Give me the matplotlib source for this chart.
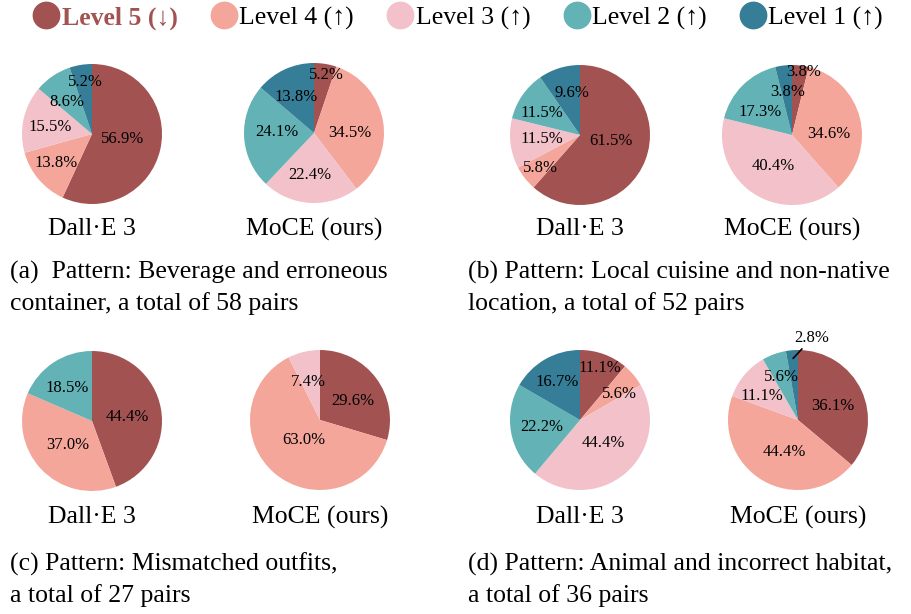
import matplotlib.pyplot as plt
from matplotlib.lines import Line2D

plt.rcParams['font.family'] = ['Liberation Serif', 'DejaVu Serif']

# Data: number of pairs per level (Level 5, 4, 3, 2, 1)
levels = ['Level 5 (\u2193)', 'Level 4 (\u2191)', 'Level 3 (\u2191)', 'Level 2 (\u2191)', 'Level 1 (\u2191)']
colors = ['#A35252', '#F4A69A', '#F2C1CA', '#62B2B6', '#367D97']

models = ['Dall\u00b7E 3', 'MoCE (ours)']

a_dalle = [33, 8, 9, 5, 3]
a_moce = [3, 20, 13, 14, 8]
b_dalle = [32, 3, 6, 6, 5]
b_moce = [2, 18, 21, 9, 2]
c_dalle = [12, 10, 0, 5, 0]
c_moce = [8, 17, 2, 0, 0]
d_dalle = [4, 2, 16, 8, 6]
d_moce = [13, 16, 4, 2, 1]

captions = [
    '(a)  Pattern: Beverage and erroneous\ncontainer, a total of 58 pairs',
    '(b) Pattern: Local cuisine and non-native\nlocation, a total of 52 pairs',
    '(c) Pattern: Mismatched outfits,\na total of 27 pairs',
    '(d) Pattern: Animal and incorrect habitat,\na total of 36 pairs',
]

W, H = 911, 614
R = 70
fig = plt.figure(figsize=(W / 100, H / 100), dpi=100)

# where each percentage label sits, in pie radius units (layout only)
label_pos = [
    [(0.43, -0.07), (-0.51, -0.41), (-0.60, 0.10), (-0.36, 0.46), (-0.09, 0.74)],
    [(0.17, 0.83), (0.51, 0.0), (-0.06, -0.60), (-0.53, 0.02), (-0.26, 0.52)],
    [(0.44, -0.08), (-0.57, -0.47), (-0.55, -0.06), (-0.55, 0.31), (-0.11, 0.60)],
    [(0.17, 0.90), (0.52, 0.02), (-0.27, -0.44), (-0.45, 0.33), (-0.06, 0.62)],
    [(0.50, 0.06), (-0.35, -0.34), None, (-0.35, 0.47), None],
    [(0.47, 0.27), (-0.23, -0.29), (-0.16, 0.55), None, None],
    [(0.29, 0.74), (0.56, 0.37), (0.33, -0.33), (-0.54, -0.10), (-0.32, 0.54)],
    [(0.50, 0.20), (-0.19, -0.46), (-0.51, 0.34), (-0.23, 0.61), None],
]


def fx(px):
    return px / W


def fy(py):
    return 1 - py / H


def pct_label(p):
    return '' if p < 0.05 else '%.1f%%' % p


def draw_pie(cx, cy, counts, name, name_y, positions):
    ax = fig.add_axes([fx(cx - R), fy(cy + R), 2 * R / W, 2 * R / H])
    wedges, texts, autotexts = ax.pie(counts, colors=colors, startangle=90, counterclock=False,
                                      autopct=pct_label, pctdistance=0.6,
                                      wedgeprops=dict(linewidth=0),
                                      textprops=dict(fontsize=12, color='black'))
    for t, pos in zip(autotexts, positions):
        if pos is not None:
            t.set_position(pos)
    ax.set_xlim(-1, 1)
    ax.set_ylim(-1, 1)
    ax.set_aspect('equal')
    fig.text(fx(cx), fy(name_y), name, fontsize=18.5, ha='center', va='center')
    return ax, autotexts


pies = [
    (92, 134, a_dalle, 229), (314, 133, a_moce, 229),
    (580, 135, b_dalle, 229), (792, 135, b_moce, 229),
    (92, 421, c_dalle, 517), (320, 420, c_moce, 517),
    (580, 420, d_dalle, 517), (798, 420, d_moce, 517),
]

axes = []
for i, (cx, cy, counts, ny) in enumerate(pies):
    axes.append(draw_pie(cx, cy, counts, models[i % 2], ny, label_pos[i]))

# 2.8% label outside with a leader line
ax, at = axes[7]
lbl = at[4].get_text()
at[4].set_text('')
ax.annotate(lbl, xy=(-0.07, 0.88), xytext=(0.2, 1.17), fontsize=12,
            ha='center', va='center', annotation_clip=False,
            arrowprops=dict(arrowstyle='-', color='black', lw=1.2, shrinkA=0, shrinkB=0))

# captions
cap_xy = [(10, 288), (468, 288), (10, 580), (468, 580)]
for (x, y), cap in zip(cap_xy, captions):
    fig.text(fx(x), fy(y), cap, fontsize=18.5, ha='left', va='center', linespacing=1.42)

# legend
handles = [Line2D([], [], marker='o', linestyle='', markersize=19, color=c) for c in colors]
leg = fig.legend(handles, levels, loc='center', bbox_to_anchor=(fx(457), fy(18)), ncol=5,
                 frameon=False, fontsize=18.5, handletextpad=0.0, columnspacing=1.2,
                 handlelength=1.2)
leg.get_texts()[0].set_color(colors[0])
leg.get_texts()[0].set_fontweight('bold')

fig.savefig('out.png', dpi=100)
